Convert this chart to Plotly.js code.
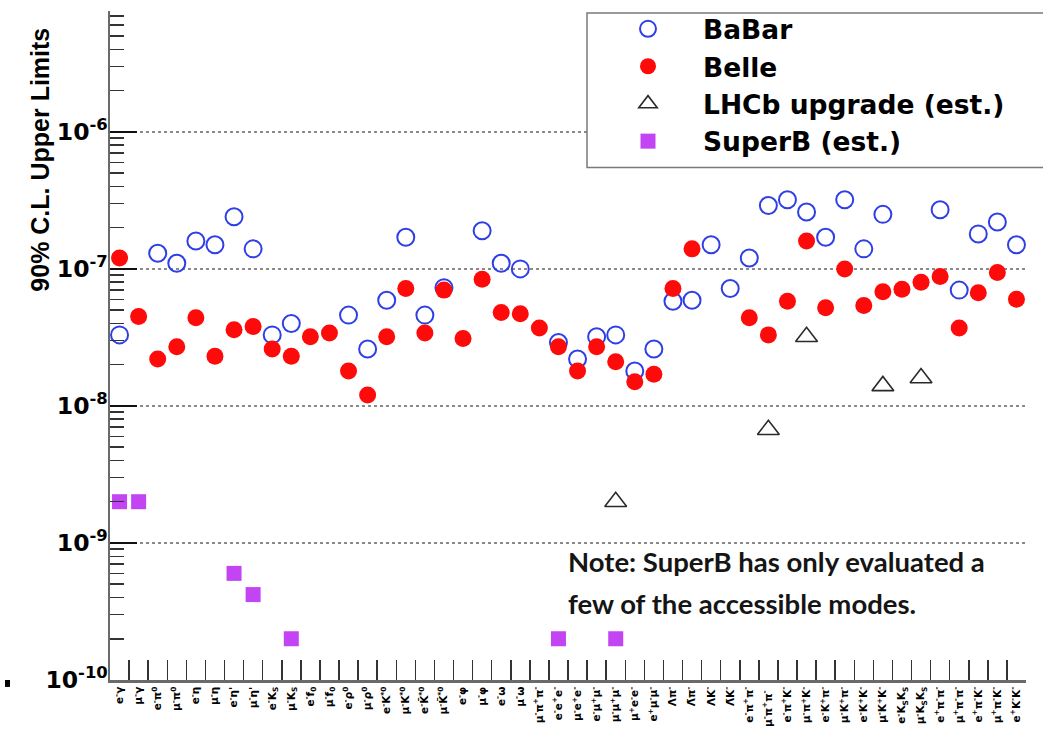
<!DOCTYPE html>
<html>
<head>
<meta charset="utf-8">
<script src="https://cdn.plot.ly/plotly-3.0.1.min.js"></script>
<style>
  html, body { margin: 0; padding: 0; background: #ffffff; }
  #chart { width: 1043px; height: 751px; }
</style>
</head>
<body>
<div id="chart"></div>
<script>
// Lepton-flavour-violating tau decay modes (tau -> ...)
const modes = [
  'e<sup>-</sup>γ', 'μ<sup>-</sup>γ',
  'e<sup>-</sup>π<sup>0</sup>', 'μ<sup>-</sup>π<sup>0</sup>',
  'e<sup>-</sup>η', 'μ<sup>-</sup>η',
  "e<sup>-</sup>η'", "μ<sup>-</sup>η'",
  'e<sup>-</sup>K<sub>S</sub>', 'μ<sup>-</sup>K<sub>S</sub>',
  'e<sup>-</sup>f<sub>0</sub>', 'μ<sup>-</sup>f<sub>0</sub>',
  'e<sup>-</sup>ρ<sup>0</sup>', 'μ<sup>-</sup>ρ<sup>0</sup>',
  'e<sup>-</sup>K<sup>*0</sup>', 'μ<sup>-</sup>K<sup>*0</sup>',
  'e<sup>-</sup>K̄<sup>*0</sup>', 'μ<sup>-</sup>K̄<sup>*0</sup>',
  'e<sup>-</sup>φ', 'μ<sup>-</sup>φ',
  'e<sup>-</sup>ω', 'μ<sup>-</sup>ω',
  'μ<sup>-</sup>π<sup>+</sup>π<sup>-</sup>',
  'e<sup>-</sup>e<sup>+</sup>e<sup>-</sup>', 'μ<sup>-</sup>e<sup>+</sup>e<sup>-</sup>',
  'e<sup>-</sup>μ<sup>+</sup>μ<sup>-</sup>', 'μ<sup>-</sup>μ<sup>+</sup>μ<sup>-</sup>',
  'μ<sup>+</sup>e<sup>-</sup>e<sup>-</sup>', 'e<sup>+</sup>μ<sup>-</sup>μ<sup>-</sup>',
  'Λπ<sup>-</sup>', 'Λ̄π<sup>-</sup>', 'ΛK<sup>-</sup>', 'Λ̄K<sup>-</sup>',
  'e<sup>-</sup>π<sup>+</sup>π<sup>-</sup>', 'μ<sup>-</sup>π<sup>+</sup>π<sup>-</sup> ',
  'e<sup>-</sup>π<sup>+</sup>K<sup>-</sup>', 'μ<sup>-</sup>π<sup>+</sup>K<sup>-</sup>',
  'e<sup>-</sup>K<sup>+</sup>π<sup>-</sup>', 'μ<sup>-</sup>K<sup>+</sup>π<sup>-</sup>',
  'e<sup>-</sup>K<sup>+</sup>K<sup>-</sup>', 'μ<sup>-</sup>K<sup>+</sup>K<sup>-</sup>',
  'e<sup>-</sup>K<sub>S</sub>K<sub>S</sub>', 'μ<sup>-</sup>K<sub>S</sub>K<sub>S</sub>',
  'e<sup>+</sup>π<sup>-</sup>π<sup>-</sup>', 'μ<sup>+</sup>π<sup>-</sup>π<sup>-</sup>',
  'e<sup>+</sup>π<sup>-</sup>K<sup>-</sup>', 'μ<sup>+</sup>π<sup>-</sup>K<sup>-</sup>',
  'e<sup>+</sup>K<sup>-</sup>K<sup>-</sup>'
];

// 90% C.L. upper limits on the branching fractions
const babar = [
  3.3e-8, null, 1.3e-7, 1.1e-7, 1.6e-7, 1.5e-7, 2.4e-7, 1.4e-7,
  3.3e-8, 4.0e-8, null, null, 4.6e-8, 2.6e-8, 5.9e-8, 1.7e-7,
  4.6e-8, 7.3e-8, null, 1.9e-7, 1.1e-7, 1.0e-7, null, 2.9e-8,
  2.2e-8, 3.2e-8, 3.3e-8, 1.8e-8, 2.6e-8, 5.8e-8, 5.9e-8, 1.5e-7,
  7.2e-8, 1.2e-7, 2.9e-7, 3.2e-7, 2.6e-7, 1.7e-7, 3.2e-7, 1.4e-7,
  2.5e-7, null, null, 2.7e-7, 7.0e-8, 1.8e-7, 2.2e-7, 1.5e-7
];
const belle = [
  1.2e-7, 4.5e-8, 2.2e-8, 2.7e-8, 4.4e-8, 2.3e-8, 3.6e-8, 3.8e-8,
  2.6e-8, 2.3e-8, 3.2e-8, 3.4e-8, 1.8e-8, 1.2e-8, 3.2e-8, 7.2e-8,
  3.4e-8, 7.0e-8, 3.1e-8, 8.4e-8, 4.8e-8, 4.7e-8, 3.7e-8, 2.7e-8,
  1.8e-8, 2.7e-8, 2.1e-8, 1.5e-8, 1.7e-8, 7.2e-8, 1.4e-7, null,
  null, 4.4e-8, 3.3e-8, 5.8e-8, 1.6e-7, 5.2e-8, 1.0e-7, 5.4e-8,
  6.8e-8, 7.1e-8, 8.0e-8, 8.8e-8, 3.7e-8, 6.7e-8, 9.4e-8, 6.0e-8
];
// projected sensitivities
const lhcb = [
  null, null, null, null, null, null, null, null,
  null, null, null, null, null, null, null, null,
  null, null, null, null, null, null, null, null,
  null, null, 2.0e-9, null, null, null, null, null,
  null, null, 6.7e-9, null, 3.2e-8, null, null, null,
  1.4e-8, null, 1.6e-8, null, null, null, null, null
];
const superb = [
  2.0e-9, 2.0e-9, null, null, null, null, 6.0e-10, 4.2e-10,
  null, 2.0e-10, null, null, null, null, null, null,
  null, null, null, null, null, null, null, 2.0e-10,
  null, null, 2.0e-10, null, null, null, null, null,
  null, null, null, null, null, null, null, null,
  null, null, null, null, null, null, null, null
];

const decades = [1e-10, 1e-9, 1e-8, 1e-7, 1e-6];
const decadeText = ['10<sup>-10</sup>', '10<sup>-9</sup>', '10<sup>-8</sup>', '10<sup>-7</sup>', '10<sup>-6</sup>'];

// plot-area geometry in page pixels
const W = 1043, H = 751, L = 110, R = 1026, T = 5, B = 680;
const px = x => (x - L) / (R - L);
const py = y => (B - y) / (B - T);

const yTop = -5.118;
const minorVals = [];
for (let d = -10; d <= -6; d++) {
  for (let k = 2; k <= 9; k++) {
    const v = k * Math.pow(10, d);
    if (Math.log10(v) < yTop) minorVals.push(v);
  }
}

const legendFont = { family: 'DejaVu Sans', size: 26.5, weight: 'bold', color: '#000' };

const traces = [
  {
    name: 'BaBar', legendgroup: 'a', x: modes, y: babar, type: 'scatter', mode: 'markers',
    marker: { symbol: 'circle-open', size: 17, color: '#2f3fe6', line: { width: 2 } },
    cliponaxis: false
  },
  {
    name: 'Belle', legendgroup: 'b', x: modes, y: belle, type: 'scatter', mode: 'markers',
    marker: { symbol: 'circle', size: 17, color: '#ff0a0a' },
    cliponaxis: false
  },
  {
    name: 'LHCb upgrade (est.)', legendgroup: 'c', x: modes, y: lhcb, type: 'scatter', mode: 'markers',
    marker: { symbol: 'triangle-up-open', size: 19, color: '#2a2a2a', line: { width: 1.6 } },
    cliponaxis: false
  },
  {
    name: 'SuperB (est.)', legendgroup: 'd', x: modes, y: superb, type: 'scatter', mode: 'markers',
    marker: { symbol: 'square', size: 15, color: '#c244f2' },
    cliponaxis: false
  }
];

const layout = {
  width: W, height: H,
  margin: { l: L, r: W - R, t: T, b: H - B, pad: 0 },
  paper_bgcolor: '#ffffff', plot_bgcolor: '#ffffff',
  showlegend: true,
  xaxis: {
    type: 'category', range: [-0.5, modes.length - 0.5],
    tickson: 'boundaries', ticks: 'inside', ticklen: 20, tickwidth: 1.5, tickcolor: '#333',
    showline: true, linecolor: '#6a6a6a', linewidth: 2.5,
    tickangle: -90, tickfont: { family: 'DejaVu Sans', size: 10.5, color: '#000', weight: 'bold' },
    showgrid: false, zeroline: false, fixedrange: true
  },
  yaxis: {
    type: 'log', range: [-10, yTop],
    tickmode: 'array', tickvals: decades, ticktext: decadeText,
    ticks: 'inside', ticklen: 27, tickwidth: 2.5, tickcolor: '#111',
    ticklabelstandoff: -5,
    showline: true, linecolor: '#6a6a6a', linewidth: 2.5,
    showgrid: true, gridcolor: '#8a8a8a', griddash: 'dot', gridwidth: 1.5,
    tickfont: { family: 'DejaVu Sans', size: 23.5, weight: 'bold', color: '#000' },
    minor: { tickmode: 'array', tickvals: minorVals, ticks: 'inside', ticklen: 14,
             tickcolor: '#333', tickwidth: 1.5, showgrid: false },
    zeroline: false, fixedrange: true
  },
  legend: {
    x: px(593), xanchor: 'left', y: py(-1), yanchor: 'top',
    bgcolor: 'rgba(0,0,0,0)', borderwidth: 0, itemwidth: 100,
    font: legendFont, traceorder: 'normal', tracegroupgap: 5.5
  },
  shapes: [
    { type: 'rect', xref: 'paper', yref: 'paper', x0: px(587), x1: px(1055), y0: py(163), y1: py(7),
      line: { color: '#7a7a7a', width: 1.5 }, fillcolor: '#ffffff', layer: 'above' },
    { type: 'rect', xref: 'paper', yref: 'paper', x0: px(5), x1: px(10), y0: py(687), y1: py(680),
      line: { width: 0 }, fillcolor: '#000000' }
  ],
  annotations: [
    { xref: 'paper', yref: 'paper', x: px(40), y: py(155), xanchor: 'center', yanchor: 'middle',
      textangle: -90, showarrow: false, text: '90% C.L. Upper Limits',
      font: { family: 'Liberation Sans, Arial, sans-serif', size: 25, weight: 'bold', color: '#000' } },
    { xref: 'paper', yref: 'paper', x: px(566), y: py(560), xanchor: 'left', yanchor: 'middle',
      showarrow: false, text: 'Note: SuperB has only evaluated a',
      font: { family: 'Lato', size: 27.5, weight: 'bold', color: '#151515' } },
    { xref: 'paper', yref: 'paper', x: px(566), y: py(603), xanchor: 'left', yanchor: 'middle',
      showarrow: false, text: 'few of the accessible modes.',
      font: { family: 'Lato', size: 27.5, weight: 'bold', color: '#151515' } }
  ]
};

Plotly.newPlot('chart', traces, layout, { displayModeBar: false, staticPlot: true });
</script>
</body>
</html>
